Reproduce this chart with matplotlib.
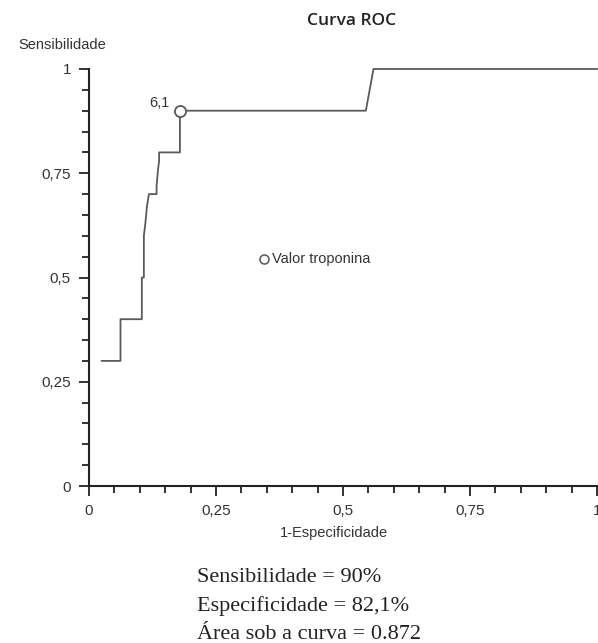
import matplotlib.pyplot as plt
from matplotlib.ticker import MultipleLocator, FixedLocator

# ROC curve points (1-specificity, sensitivity)
fpr = [0.025, 0.062, 0.062, 0.104, 0.104, 0.108, 0.108, 0.111, 0.114, 0.118, 0.118,
       0.133, 0.133, 0.136, 0.138, 0.138, 0.179, 0.179, 0.545, 0.560, 1.0]
tpr = [0.30, 0.30, 0.40, 0.40, 0.50, 0.50, 0.60, 0.63, 0.67, 0.70, 0.70,
       0.70, 0.72, 0.76, 0.78, 0.80, 0.80, 0.90, 0.90, 1.00, 1.00]

cut_x = [0.179]
cut_y = [0.90]
cut_label = '6,1'

ticks = [0, 0.25, 0.5, 0.75, 1]
tick_labels = ['0', '0,25', '0,5', '0,75', '1']

stats = ['Sensibilidade = 90%', 'Especificidade = 82,1%', 'Área sob a curva = 0.872']

fig = plt.figure(figsize=(5.98, 6.43), dpi=100)
ax = fig.add_axes([89/598, 1 - 486/643, 508/598, 417/643])

ax.plot(fpr, tpr, color='#5a5a5a', lw=1.3, clip_on=False)
ax.plot(cut_x, cut_y, 'o', ms=8, mfc='white', mec='#5a5a5a', mew=1.3, clip_on=False, zorder=3)
ax.annotate(cut_label, (cut_x[0], cut_y[0]), xytext=(-22, 3), textcoords='offset points',
            fontsize=10.5, color='#333333', family='Liberation Sans')

# legend-like label
ax.plot([0.345], [0.545], 'o', ms=6.5, mfc='white', mec='#555555', mew=1.1)
ax.text(0.36, 0.545, 'Valor troponina', fontsize=10.5, color='#333333',
        family='Liberation Sans', va='center')

ax.set_xlim(0, 1)
ax.set_ylim(0, 1)
for s in ['top', 'right']:
    ax.spines[s].set_visible(False)
for s in ['left', 'bottom']:
    ax.spines[s].set_linewidth(1.5)
    ax.spines[s].set_color('#222222')

ax.xaxis.set_major_locator(FixedLocator(ticks))
ax.yaxis.set_major_locator(FixedLocator(ticks))
ax.set_xticklabels(tick_labels)
ax.set_yticklabels(tick_labels)
ax.xaxis.set_minor_locator(MultipleLocator(0.05))
ax.yaxis.set_minor_locator(MultipleLocator(0.05))
ax.tick_params(which='major', length=7, width=1.3, color='#222222', labelsize=11,
               labelcolor='#333333', pad=6)
ax.tick_params(which='minor', length=5, width=1.3, color='#222222')
for lab in ax.get_xticklabels() + ax.get_yticklabels():
    lab.set_family('Liberation Sans')

fig.text(352/598, 1 - 21/643, 'Curva ROC', ha='center', va='center', fontsize=12.5,
         fontweight='semibold', family='Open Sans', color='#222222')
fig.text(62/598, 1 - 45/643, 'Sensibilidade', ha='center', va='center', fontsize=10.5,
         family='Liberation Sans', color='#333333')
fig.text(334/598, 1 - 533/643, '1-Especificidade', ha='center', va='center', fontsize=10.5,
         family='Liberation Sans', color='#333333')

for i, line in enumerate(stats):
    fig.text(197/598, 1 - (582 + 28.5 * i)/643, line, ha='left', va='baseline',
             fontsize=16, family='Liberation Serif', color='#222222')

fig.savefig('out.png', dpi=100)
